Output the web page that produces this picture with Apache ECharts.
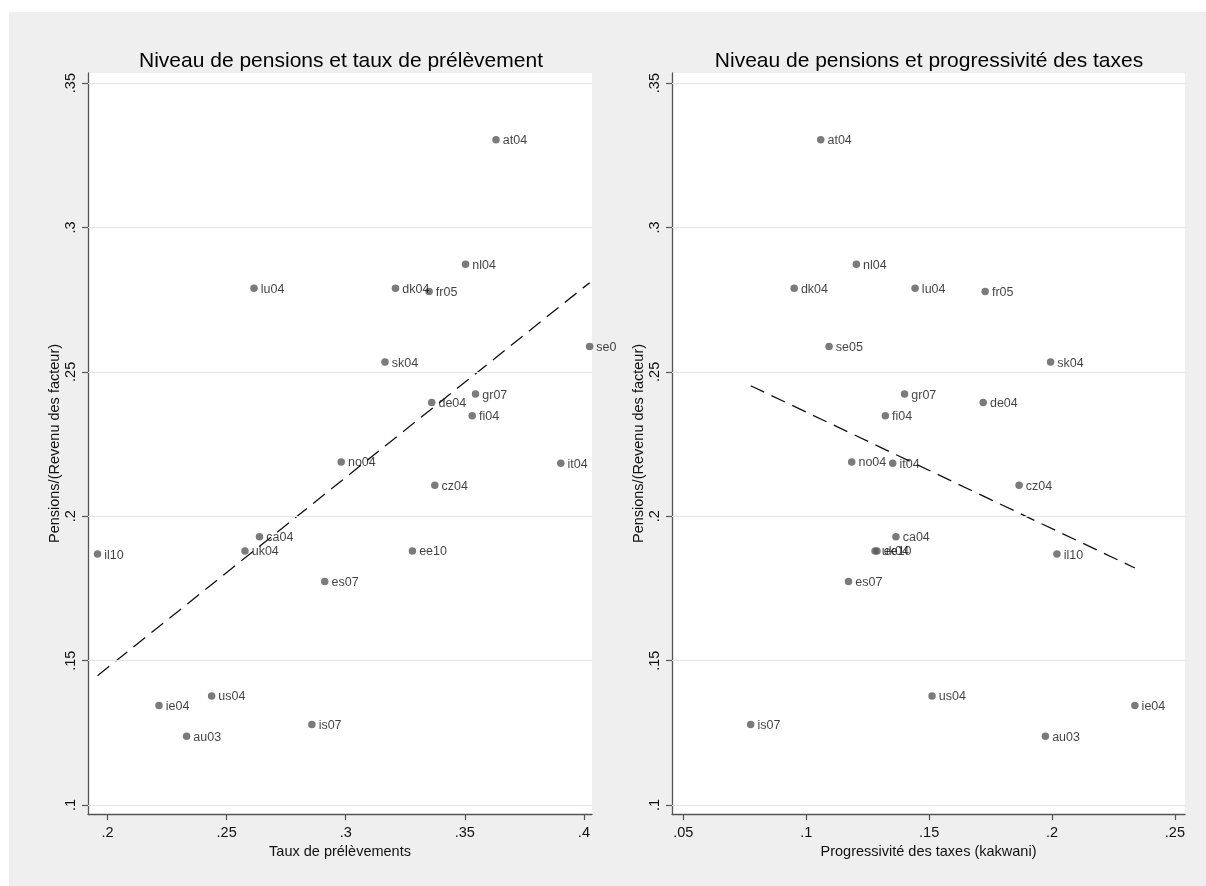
<!DOCTYPE html>
<html>
<head>
<meta charset="utf-8">
<script src="https://cdn.jsdelivr.net/npm/echarts@6/dist/echarts.min.js"></script>
<style>
html,body{margin:0;padding:0;background:#fff;}
#chart{width:1206px;height:886px;}
</style>
</head>
<body>
<div id="chart"></div>
<script>
// ---- Data ----
const countries = ['at04','nl04','lu04','dk04','fr05','se05','sk04','gr07','de04','fi04','no04','it04','cz04','ca04','uk04','il10','ee10','es07','us04','ie04','au03','is07'];
const pensions  = [0.3304,0.2873,0.2790,0.2790,0.2778,0.2588,0.2534,0.2423,0.2394,0.2348,0.2188,0.2184,0.2107,0.1929,0.1880,0.1869,0.1880,0.1774,0.1378,0.1345,0.1238,0.1279];
const tauxPrelevements = [0.3631,0.3503,0.2615,0.3209,0.3350,0.4024,0.3165,0.3545,0.3361,0.3531,0.2981,0.3903,0.3374,0.2638,0.2577,0.1958,0.3280,0.2912,0.2437,0.2216,0.2332,0.2858];
const kakwani = [0.1059,0.1204,0.1443,0.0951,0.1728,0.1093,0.1994,0.1400,0.1720,0.1322,0.1185,0.1352,0.1866,0.1365,0.1280,0.2020,0.1288,0.1172,0.1512,0.2337,0.1973,0.0774];
// fitted lines (endpoints)
const fitLeft  = [[0.1958, 0.1448], [0.4024, 0.2809]];
const fitRight = [[0.0774, 0.2452], [0.2337, 0.1821]];
// tick labels
const yTicks = [0.1, 0.15, 0.2, 0.25, 0.3, 0.35];
const xTicksLeft = [0.2, 0.25, 0.3, 0.35, 0.4];
const xTicksRight = [0.05, 0.1, 0.15, 0.2, 0.25];
const titles = ['Niveau de pensions et taux de prélèvement', 'Niveau de pensions et progressivité des taxes'];
const xNames = ['Taux de prélèvements', 'Progressivité des taxes (kakwani)'];
const yName = 'Pensions/(Revenu des facteur)';

// ---- Styling ----
const FONT = '"Liberation Sans", Arial, sans-serif';
const axisColor = '#555';
const fmt = v => (+(+v).toFixed(3)).toString().replace(/^0\./, '.');

const chart = echarts.init(document.getElementById('chart'), null, {renderer: 'canvas'});

const grids = [
  {left: 88, top: 73, width: 504, height: 741},
  {left: 672, top: 73, width: 513, height: 741}
];
const xRanges = [[0.1918, 0.4034], [0.0454, 0.2541]];
const yRange = [0.0969, 0.3535];

function xAxisDef(i, ticks) {
  return {
    type: 'value', gridIndex: i, min: xRanges[i][0], max: xRanges[i][1],
    name: xNames[i], nameLocation: 'middle', nameGap: 30,
    nameTextStyle: {fontFamily: FONT, fontSize: 14.5, color: '#111'},
    axisLine: {show: true, onZero: false, lineStyle: {color: axisColor, width: 1.3}},
    axisTick: {show: true, length: 6, inside: false, customValues: ticks, lineStyle: {color: axisColor, width: 1.2}},
    axisLabel: {show: true, customValues: ticks, formatter: fmt, margin: 11, fontFamily: FONT, fontSize: 14.5, color: '#111'},
    splitLine: {show: false}
  };
}
function yAxisDef(i) {
  return {
    type: 'value', gridIndex: i, min: yRange[0], max: yRange[1],
    name: yName, nameLocation: 'middle', nameGap: 23,
    nameTextStyle: {fontFamily: FONT, fontSize: 14.5, color: '#111'},
    axisLine: {show: true, onZero: false, lineStyle: {color: axisColor, width: 1.3}},
    axisTick: {show: true, length: 6, inside: false, customValues: yTicks, lineStyle: {color: axisColor, width: 1.2}},
    axisLabel: {show: true, customValues: yTicks, formatter: fmt, rotate: 90, margin: 10, fontFamily: FONT, fontSize: 14.5, color: '#111'},
    splitLine: {show: false}
  };
}

function scatterData(xs, clipRight) {
  return countries.map((c, k) => {
    const item = {name: c, value: [xs[k], pensions[k]]};
    if (clipRight && xs[k] > clipRight) {
      item.label = {width: 25, overflow: 'truncate', ellipsis: ''};
    }
    return item;
  });
}

function gridSeries(i) {
  return {
    type: 'line', xAxisIndex: i, yAxisIndex: i, data: [], z: 1, silent: true,
    markLine: {
      silent: true, symbol: 'none', animation: false,
      label: {show: false},
      lineStyle: {color: '#e6e6e6', type: 'solid', width: 1},
      data: yTicks.map(v => ({yAxis: v}))
    }
  };
}

function scatterSeries(i, xs, clipRight) {
  return {
    type: 'scatter', xAxisIndex: i, yAxisIndex: i, z: 4,
    symbol: 'circle', symbolSize: 7.5,
    itemStyle: {color: '#5a5a5a'},
    label: {show: true, position: 'right', distance: 3, formatter: '{b}',
            fontFamily: FONT, fontSize: 12.5, color: '#111', offset: [0, 1]},
    data: scatterData(xs, clipRight),
    animation: false
  };
}

function fitSeries(i, pts) {
  return {
    type: 'line', xAxisIndex: i, yAxisIndex: i, z: 3,
    data: pts, symbol: 'none', silent: true, animation: false,
    lineStyle: {color: '#111', width: 1.3, type: [15, 8]}
  };
}

const option = {
  backgroundColor: '#ffffff',
  animation: false,
  graphic: [
    {type: 'rect', shape: {x: 9, y: 12, width: 1197, height: 874}, style: {fill: '#efefef'}, z: -10, silent: true},
    {type: 'text', x: 341, y: 61, z: 10, style: {text: titles[0], font: '21px ' + FONT, fill: '#000', align: 'center', verticalAlign: 'middle', textAlign: 'center', textVerticalAlign: 'middle'}},
    {type: 'text', x: 929, y: 61, z: 10, style: {text: titles[1], font: '21px ' + FONT, fill: '#000', align: 'center', verticalAlign: 'middle', textAlign: 'center', textVerticalAlign: 'middle'}}
  ],
  grid: grids.map(g => Object.assign({show: true, backgroundColor: '#ffffff', borderWidth: 0}, g)),
  xAxis: [xAxisDef(0, xTicksLeft), xAxisDef(1, xTicksRight)],
  yAxis: [yAxisDef(0), yAxisDef(1)],
  series: [
    gridSeries(0), gridSeries(1),
    fitSeries(0, fitLeft), fitSeries(1, fitRight),
    scatterSeries(0, tauxPrelevements, 0.40), scatterSeries(1, kakwani, null)
  ]
};
chart.setOption(option);
</script>
</body>
</html>
